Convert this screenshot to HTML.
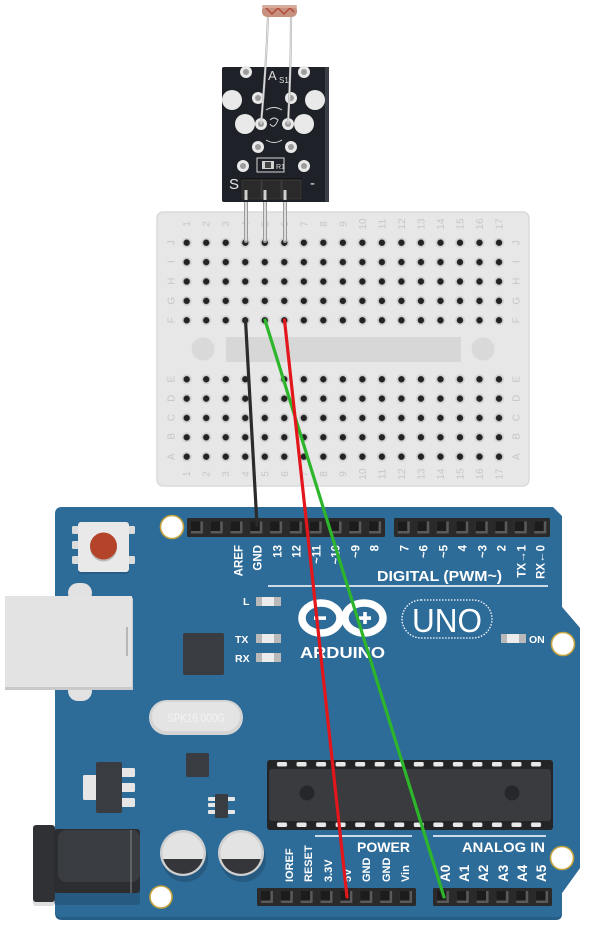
<!DOCTYPE html>
<html><head><meta charset="utf-8"><style>
html,body{margin:0;padding:0;background:#fff;}
svg{display:block;}
text{font-family:"Liberation Sans",sans-serif;}
</style></head><body>
<svg width="600" height="930" viewBox="0 0 600 930" xmlns="http://www.w3.org/2000/svg">
<defs>
<pattern id="holes" patternUnits="userSpaceOnUse" x="176.94" y="233" width="19.52" height="19.4">
<circle cx="9.76" cy="9.7" r="5" fill="#d2d2d2"/>
<circle cx="9.76" cy="9.7" r="3.2" fill="#232323"/>
</pattern>
<pattern id="holes2" patternUnits="userSpaceOnUse" x="176.94" y="369.6" width="19.52" height="19.35">
<circle cx="9.76" cy="9.7" r="5" fill="#d2d2d2"/>
<circle cx="9.76" cy="9.7" r="3.2" fill="#232323"/>
</pattern>
<pattern id="pinA" patternUnits="userSpaceOnUse" x="187" y="518" width="19.8" height="19">
<rect x="3.9" y="3.5" width="12" height="12" fill="#5a5a5a"/>
<rect x="3.9" y="3.5" width="9.5" height="9.5" fill="#1c1c1c"/>
</pattern>
<pattern id="pinB" patternUnits="userSpaceOnUse" x="394" y="518" width="19.5" height="19">
<rect x="3.75" y="3.5" width="12" height="12" fill="#5a5a5a"/>
<rect x="3.75" y="3.5" width="9.5" height="9.5" fill="#1c1c1c"/>
</pattern>
<pattern id="pinC" patternUnits="userSpaceOnUse" x="257" y="888" width="19.87" height="18">
<rect x="3.9" y="3" width="12" height="12" fill="#5a5a5a"/>
<rect x="3.9" y="3" width="9.5" height="9.5" fill="#1c1c1c"/>
</pattern>
<pattern id="pinD" patternUnits="userSpaceOnUse" x="433" y="888" width="19.83" height="18">
<rect x="3.9" y="3" width="12" height="12" fill="#5a5a5a"/>
<rect x="3.9" y="3" width="9.5" height="9.5" fill="#1c1c1c"/>
</pattern>
<pattern id="icpinT" patternUnits="userSpaceOnUse" x="272.2" y="760" width="19.54" height="10">
<rect x="4.8" y="2" width="10" height="4.5" rx="1.5" fill="#e8e8e8"/>
</pattern>
<pattern id="icpinB" patternUnits="userSpaceOnUse" x="272.2" y="820" width="19.54" height="10">
<rect x="4.8" y="2.5" width="10" height="4.5" rx="1.5" fill="#e8e8e8"/>
</pattern>
</defs>

<rect width="600" height="930" fill="#fff"/>

<!-- ===== Breadboard ===== -->
<rect x="157" y="212" width="372" height="274" rx="6" fill="#e7e7e7" stroke="#dadada" stroke-width="1.5"/>
<rect x="226" y="337" width="235" height="25" fill="#d7d7d7"/>
<circle cx="203" cy="349" r="11.5" fill="#d9d9d9"/>
<circle cx="483" cy="349" r="11.5" fill="#d9d9d9"/>
<rect x="176.94" y="233" width="332" height="97" fill="url(#holes)"/>
<rect x="176.94" y="369.6" width="332" height="96.8" fill="url(#holes2)"/>
<g fill="#c6c6c6" font-size="10" text-anchor="middle">
<g>
<text transform="translate(190.2,224) rotate(-90)">1</text>
<text transform="translate(209.7,224) rotate(-90)">2</text>
<text transform="translate(229.2,224) rotate(-90)">3</text>
<text transform="translate(248.8,224) rotate(-90)">4</text>
<text transform="translate(268.3,224) rotate(-90)">5</text>
<text transform="translate(287.8,224) rotate(-90)">6</text>
<text transform="translate(307.3,224) rotate(-90)">7</text>
<text transform="translate(326.8,224) rotate(-90)">8</text>
<text transform="translate(346.4,224) rotate(-90)">9</text>
<text transform="translate(365.9,224) rotate(-90)">10</text>
<text transform="translate(385.4,224) rotate(-90)">11</text>
<text transform="translate(404.9,224) rotate(-90)">12</text>
<text transform="translate(424.4,224) rotate(-90)">13</text>
<text transform="translate(444.0,224) rotate(-90)">14</text>
<text transform="translate(463.5,224) rotate(-90)">15</text>
<text transform="translate(483.0,224) rotate(-90)">16</text>
<text transform="translate(502.5,224) rotate(-90)">17</text>
</g>
<g>
<text transform="translate(190.2,474) rotate(-90)">1</text>
<text transform="translate(209.7,474) rotate(-90)">2</text>
<text transform="translate(229.2,474) rotate(-90)">3</text>
<text transform="translate(248.8,474) rotate(-90)">4</text>
<text transform="translate(268.3,474) rotate(-90)">5</text>
<text transform="translate(287.8,474) rotate(-90)">6</text>
<text transform="translate(307.3,474) rotate(-90)">7</text>
<text transform="translate(326.8,474) rotate(-90)">8</text>
<text transform="translate(346.4,474) rotate(-90)">9</text>
<text transform="translate(365.9,474) rotate(-90)">10</text>
<text transform="translate(385.4,474) rotate(-90)">11</text>
<text transform="translate(404.9,474) rotate(-90)">12</text>
<text transform="translate(424.4,474) rotate(-90)">13</text>
<text transform="translate(444.0,474) rotate(-90)">14</text>
<text transform="translate(463.5,474) rotate(-90)">15</text>
<text transform="translate(483.0,474) rotate(-90)">16</text>
<text transform="translate(502.5,474) rotate(-90)">17</text>
</g>
<g>
<text transform="translate(174.5,242.7) rotate(-90)">J</text>
<text transform="translate(174.5,261.7) rotate(-90)">I</text>
<text transform="translate(174.5,281.3) rotate(-90)">H</text>
<text transform="translate(174.5,300.7) rotate(-90)">G</text>
<text transform="translate(174.5,320.3) rotate(-90)">F</text>
<text transform="translate(174.5,379.3) rotate(-90)">E</text>
<text transform="translate(174.5,398.3) rotate(-90)">D</text>
<text transform="translate(174.5,417.7) rotate(-90)">C</text>
<text transform="translate(174.5,436.3) rotate(-90)">B</text>
<text transform="translate(174.5,456.7) rotate(-90)">A</text>
<text transform="translate(519.5,242.7) rotate(-90)">J</text>
<text transform="translate(519.5,261.7) rotate(-90)">I</text>
<text transform="translate(519.5,281.3) rotate(-90)">H</text>
<text transform="translate(519.5,300.7) rotate(-90)">G</text>
<text transform="translate(519.5,320.3) rotate(-90)">F</text>
<text transform="translate(519.5,379.3) rotate(-90)">E</text>
<text transform="translate(519.5,398.3) rotate(-90)">D</text>
<text transform="translate(519.5,417.7) rotate(-90)">C</text>
<text transform="translate(519.5,436.3) rotate(-90)">B</text>
<text transform="translate(519.5,456.7) rotate(-90)">A</text>
</g>
</g>

<!-- ===== Sensor module ===== -->
<g>
<!-- pins into breadboard -->
<g stroke="#9a9a9a" stroke-width="4" stroke-linecap="round">
<line x1="246" y1="198" x2="246" y2="241"/>
<line x1="265" y1="198" x2="265" y2="241"/>
<line x1="285" y1="198" x2="285" y2="241"/>
</g>
<g stroke="#dcdcdc" stroke-width="2" stroke-linecap="round">
<line x1="246" y1="198" x2="246" y2="240"/>
<line x1="265" y1="198" x2="265" y2="240"/>
<line x1="285" y1="198" x2="285" y2="240"/>
</g>
<rect x="222" y="67" width="107" height="135" rx="2" fill="#1e2127"/>
<rect x="325" y="67" width="4" height="135" fill="#3a3e46"/>
<!-- pads -->
<g fill="#e9e9e9">
<circle cx="232" cy="100" r="10"/>
<circle cx="315" cy="100" r="10"/>
<circle cx="245" cy="124" r="10"/>
<circle cx="304" cy="124" r="10"/>
</g>
<g fill="#e9e9e9" stroke="none">
<circle cx="246" cy="72" r="6"/>
<circle cx="304" cy="72" r="6"/>
<circle cx="258" cy="98" r="6"/>
<circle cx="291" cy="98" r="6"/>
<circle cx="261" cy="124" r="6"/>
<circle cx="288" cy="124" r="6"/>
<circle cx="258" cy="147" r="6"/>
<circle cx="291" cy="147" r="6"/>
<circle cx="243" cy="166" r="6"/>
<circle cx="304" cy="166" r="6"/>
</g>
<g fill="#9c9c9c">
<circle cx="246" cy="72" r="3"/>
<circle cx="304" cy="72" r="3"/>
<circle cx="258" cy="98" r="3"/>
<circle cx="291" cy="98" r="3"/>
<circle cx="261" cy="124" r="3"/>
<circle cx="288" cy="124" r="3"/>
<circle cx="258" cy="147" r="3"/>
<circle cx="291" cy="147" r="3"/>
<circle cx="243" cy="166" r="3"/>
<circle cx="304" cy="166" r="3"/>
</g>
<!-- silkscreen -->
<g stroke="#d8d8d8" stroke-width="1" fill="none">
<path d="M266 110 Q274 105 282 110"/>
<path d="M266 140 Q274 145 282 140"/>
<path d="M270 120 Q274 116 278 120 Q274 130 270 124"/>
<rect x="257" y="158" width="27" height="14"/>
</g>
<rect x="262" y="161" width="12" height="8" fill="#d0d0d0"/>
<rect x="265" y="162" width="6" height="6" fill="#444"/>
<text x="276" y="169" font-size="7" fill="#dcdcdc">R1</text>
<text x="268" y="80" font-size="13" fill="#dcdcdc">A</text>
<text x="279" y="83" font-size="8" fill="#dcdcdc">S1</text>
<text x="229" y="189" font-size="15" fill="#e6e6e6">S</text>
<text x="310" y="188" font-size="15" fill="#e6e6e6">-</text>
<!-- header -->
<rect x="241" y="178" width="61" height="22" fill="#151515"/>
<rect x="242" y="180" width="19" height="19" fill="#2a2a2a" stroke="#3b3b3b"/>
<rect x="262" y="180" width="19" height="19" fill="#2a2a2a" stroke="#3b3b3b"/>
<rect x="282" y="180" width="19" height="19" fill="#2a2a2a" stroke="#3b3b3b"/>
<g stroke="#cfcfcf" stroke-width="3">
<line x1="246" y1="190" x2="246" y2="200"/>
<line x1="265" y1="190" x2="265" y2="200"/>
<line x1="285" y1="190" x2="285" y2="200"/>
</g>
<!-- LDR legs -->
<g stroke="#b9b9b9" stroke-width="2.2" fill="none">
<path d="M268 16 Q266 70 261 124"/>
<path d="M291 16 Q291 70 288 124"/>
</g>
<g stroke="#e8e8e8" stroke-width="0.8" fill="none">
<path d="M268 16 Q266 70 261 124"/>
<path d="M291 16 Q291 70 288 124"/>
</g>
<!-- LDR body -->
<rect x="262" y="5" width="35" height="12" rx="5" fill="#c7907f"/>
<path d="M266 8 L272 14 L278 8 L284 14 L290 8 L294 12" stroke="#b24a3a" stroke-width="1.5" fill="none"/>
<rect x="262" y="5" width="35" height="3" rx="1.5" fill="#d9aa9a"/>
</g>

<!-- ===== Arduino board ===== -->
<path d="M62,509 L553,509 L562,518 L562,607 L580,628 L580,868 L562,893 L562,914 Q562,920 556,920 L62,920 Q55,920 55,913 L55,516 Q55,509 62,509 Z" fill="#265d86"/>
<path d="M62,507 L553,507 L562,516 L562,607 L580,628 L580,868 L562,893 L562,911 Q562,917 556,917 L62,917 Q55,917 55,910 L55,514 Q55,507 62,507 Z" fill="#2d6b98"/>

<!-- headers top -->
<rect x="187" y="518" width="198" height="19" rx="1.5" fill="#2a2a2a"/>
<rect x="187" y="518" width="198" height="19" fill="url(#pinA)"/>
<rect x="394" y="518" width="156" height="19" rx="1.5" fill="#2a2a2a"/>
<rect x="394" y="518" width="156" height="19" fill="url(#pinB)"/>

<!-- mounting holes -->
<g fill="#ffffff" stroke="#c3a33e" stroke-width="1.6">
<circle cx="172" cy="527" r="11.5"/>
<circle cx="563" cy="644" r="11.5"/>
<circle cx="562" cy="858" r="11.5"/>
<circle cx="161" cy="897" r="11"/>
</g>

<!-- top labels -->
<g fill="#ffffff" font-size="11.5" font-weight="bold" text-anchor="end">
<text transform="translate(242.5,545) rotate(-90)">AREF</text>
<text transform="translate(261.5,545) rotate(-90)">GND</text>
<text transform="translate(281.5,545) rotate(-90)">13</text>
<text transform="translate(300.5,545) rotate(-90)">12</text>
<text transform="translate(320.5,545) rotate(-90)">~11</text>
<text transform="translate(339.5,545) rotate(-90)">~10</text>
<text transform="translate(359.5,545) rotate(-90)">~9</text>
<text transform="translate(378.5,545) rotate(-90)">8</text>
<text transform="translate(408.5,545) rotate(-90)">7</text>
<text transform="translate(427.5,545) rotate(-90)">~6</text>
<text transform="translate(447.5,545) rotate(-90)">~5</text>
<text transform="translate(466.5,545) rotate(-90)">4</text>
<text transform="translate(486.5,545) rotate(-90)">~3</text>
<text transform="translate(505.5,545) rotate(-90)">2</text>
<text transform="translate(525.5,545) rotate(-90)">TX→1</text>
<text transform="translate(544.5,545) rotate(-90)">RX←0</text>
</g>
<text x="377" y="581" font-size="15" font-weight="bold" fill="#fff" textLength="125" lengthAdjust="spacingAndGlyphs">DIGITAL (PWM~)</text>
<line x1="268" y1="586" x2="548" y2="586" stroke="#fff" stroke-width="1.5"/>

<!-- reset button -->
<g fill="#dcdcdc">
<rect x="72" y="526" width="7" height="8" rx="1.5"/>
<rect x="72" y="541" width="7" height="8" rx="1.5"/>
<rect x="72" y="556" width="7" height="8" rx="1.5"/>
<rect x="128" y="526" width="7" height="8" rx="1.5"/>
<rect x="128" y="556" width="7" height="8" rx="1.5"/>
</g>
<rect x="78" y="524" width="51" height="50" rx="3" fill="#265d86"/>
<rect x="78" y="522" width="51" height="50" rx="3" fill="#e9e9e9"/>
<circle cx="103.5" cy="548" r="13.5" fill="#8c8c8c" opacity="0.5"/>
<circle cx="103.5" cy="546" r="13.5" fill="#b3442a"/>

<!-- USB -->
<rect x="68" y="583" width="24" height="20" rx="10" fill="#e2e2e2"/>
<rect x="68" y="681" width="24" height="20" rx="10" fill="#e2e2e2"/>
<rect x="5" y="598" width="128" height="92" fill="#c9c9c9"/>
<rect x="5" y="596" width="127" height="91" fill="#e3e3e3"/>
<line x1="127" y1="627" x2="127" y2="656" stroke="#9a9a9a" stroke-width="1.2"/>

<!-- chip near TX -->
<rect x="183" y="633" width="41" height="42" rx="2" fill="#393c40"/>

<!-- LEDs -->
<g>
<rect x="256" y="597" width="25" height="9" fill="#b9b9b9"/>
<rect x="262" y="597" width="12" height="9" fill="#ececec"/>
<rect x="256" y="634" width="25" height="9" fill="#b9b9b9"/>
<rect x="262" y="634" width="12" height="9" fill="#ececec"/>
<rect x="256" y="653" width="25" height="9" fill="#b9b9b9"/>
<rect x="262" y="653" width="12" height="9" fill="#ececec"/>
<rect x="501" y="634" width="25" height="9" fill="#b9b9b9"/>
<rect x="507" y="634" width="12" height="9" fill="#ececec"/>
</g>
<g fill="#fff" font-size="10.5" font-weight="bold">
<text x="243" y="605">L</text>
<text x="235" y="643">TX</text>
<text x="235" y="662">RX</text>
<text x="529" y="643">ON</text>
</g>

<!-- Arduino logo -->
<g fill="none" stroke="#fff" stroke-width="7.5">
<ellipse cx="321" cy="618" rx="19" ry="15"/>
<ellipse cx="364" cy="618" rx="19" ry="15"/>
</g>
<g fill="#fff">
<rect x="314" y="616.3" width="12" height="3.6"/>
<rect x="359" y="616.3" width="12" height="3.6"/>
<rect x="363.2" y="612" width="3.6" height="12"/>
</g>
<text x="300" y="658" font-size="16" font-weight="bold" fill="#fff" textLength="85" lengthAdjust="spacingAndGlyphs">ARDUINO</text>

<!-- UNO -->
<rect x="402" y="600" width="90" height="38" rx="19" fill="none" stroke="#fff" stroke-width="1.3" stroke-dasharray="1.5 1.5"/>
<text x="447" y="632" font-size="33" fill="#fff" text-anchor="middle" textLength="70" lengthAdjust="spacingAndGlyphs">UNO</text>

<!-- crystal -->
<rect x="149" y="700" width="94" height="35" rx="17.5" fill="#d4d4d4"/>
<rect x="152" y="702" width="88" height="29" rx="14.5" fill="#e4e4e4"/>
<text x="196" y="722" font-size="12" fill="#f4f4f4" text-anchor="middle" textLength="58" lengthAdjust="spacingAndGlyphs">SPK16.000G</text>

<!-- small chip -->
<rect x="186" y="753" width="23" height="24" rx="1.5" fill="#393c40"/>

<!-- regulator -->
<rect x="83" y="775" width="14" height="25" rx="1.5" fill="#e6e6e6"/>
<g fill="#e6e6e6">
<rect x="121" y="768" width="14" height="9" rx="1.5"/>
<rect x="121" y="783" width="14" height="9" rx="1.5"/>
<rect x="121" y="798" width="14" height="9" rx="1.5"/>
</g>
<rect x="96" y="762" width="26" height="51" rx="2" fill="#393c40"/>

<!-- SOT -->
<g fill="#e6e6e6">
<rect x="208" y="797" width="9" height="4" rx="1"/>
<rect x="208" y="803" width="9" height="4" rx="1"/>
<rect x="208" y="810" width="9" height="4" rx="1"/>
<rect x="226" y="797" width="9" height="4" rx="1"/>
<rect x="226" y="810" width="9" height="4" rx="1"/>
</g>
<rect x="215" y="794" width="13" height="24" rx="1.5" fill="#393c40"/>

<!-- power jack -->
<rect x="54" y="832" width="86" height="73" rx="3" fill="#265a80"/>
<rect x="33" y="826" width="22" height="80" rx="3" fill="#c8c8c8" opacity="0.6"/>
<rect x="33" y="825" width="22" height="77" rx="3" fill="#2f3134"/>
<rect x="54" y="829" width="86" height="64" rx="3" fill="#2b2d30"/>
<rect x="58" y="830" width="82" height="52" rx="8" fill="#393c40"/>
<line x1="131" y1="830" x2="131" y2="893" stroke="#8a8a8a" stroke-width="1"/>

<!-- capacitors -->
<circle cx="185" cy="859" r="23" fill="#265a80"/>
<circle cx="243" cy="859" r="23" fill="#265a80"/>
<circle cx="183" cy="853" r="23" fill="#cfcfcf"/>
<circle cx="183" cy="853" r="20.5" fill="#e3e3e3"/>
<path d="M163.3 859 A20.5 20.5 0 0 0 202.7 859 Z" fill="#343639"/>
<circle cx="241" cy="853" r="23" fill="#cfcfcf"/>
<circle cx="241" cy="853" r="20.5" fill="#e3e3e3"/>
<path d="M221.3 859 A20.5 20.5 0 0 0 260.7 859 Z" fill="#343639"/>

<!-- ATmega -->
<rect x="267" y="760" width="286" height="70" rx="3" fill="#222426"/>
<rect x="269" y="769" width="282" height="52" rx="3" fill="#393b3e"/>
<rect x="272.2" y="760" width="273" height="10" fill="url(#icpinT)"/>
<rect x="272.2" y="820" width="273" height="10" fill="url(#icpinB)"/>
<circle cx="307" cy="793" r="7.5" fill="#25272a"/>
<circle cx="512" cy="793" r="7.5" fill="#25272a"/>

<!-- power/analog labels -->
<line x1="315" y1="836" x2="412" y2="836" stroke="#fff" stroke-width="1.5"/>
<line x1="433" y1="836" x2="546" y2="836" stroke="#fff" stroke-width="1.5"/>
<text x="357" y="852" font-size="14" font-weight="bold" fill="#fff" textLength="53" lengthAdjust="spacingAndGlyphs">POWER</text>
<text x="462" y="852" font-size="14" font-weight="bold" fill="#fff" textLength="83" lengthAdjust="spacingAndGlyphs">ANALOG IN</text>
<g fill="#fff" font-size="11" font-weight="bold">
<text transform="translate(293,882) rotate(-90)">IOREF</text>
<text transform="translate(312,882) rotate(-90)">RESET</text>
<text transform="translate(332,882) rotate(-90)">3.3V</text>
<text transform="translate(351,882) rotate(-90)">5V</text>
<text transform="translate(370,882) rotate(-90)">GND</text>
<text transform="translate(390,882) rotate(-90)">GND</text>
<text transform="translate(409,882) rotate(-90)">Vin</text>
</g>
<g fill="#fff" font-size="13.5" font-weight="bold">
<text transform="translate(450,882) rotate(-90)">A0</text>
<text transform="translate(469,882) rotate(-90)">A1</text>
<text transform="translate(488,882) rotate(-90)">A2</text>
<text transform="translate(508,882) rotate(-90)">A3</text>
<text transform="translate(527,882) rotate(-90)">A4</text>
<text transform="translate(546,882) rotate(-90)">A5</text>
</g>

<!-- bottom headers -->
<rect x="257" y="888" width="159" height="18" rx="1.5" fill="#2a2a2a"/>
<rect x="257" y="888" width="159" height="18" fill="url(#pinC)"/>
<rect x="433" y="888" width="119" height="18" rx="1.5" fill="#2a2a2a"/>
<rect x="433" y="888" width="119" height="18" fill="url(#pinD)"/>

<!-- ===== Wires ===== -->
<g stroke-width="3.2" stroke-linecap="round" fill="none">
<line x1="245.5" y1="320" x2="257" y2="525" stroke="#2b2b2b"/>
<line x1="265" y1="320" x2="444" y2="897" stroke="#2db52b"/>
<line x1="284.5" y1="320" x2="347" y2="897" stroke="#e3161b"/>
</g>
</svg>
</body></html>
